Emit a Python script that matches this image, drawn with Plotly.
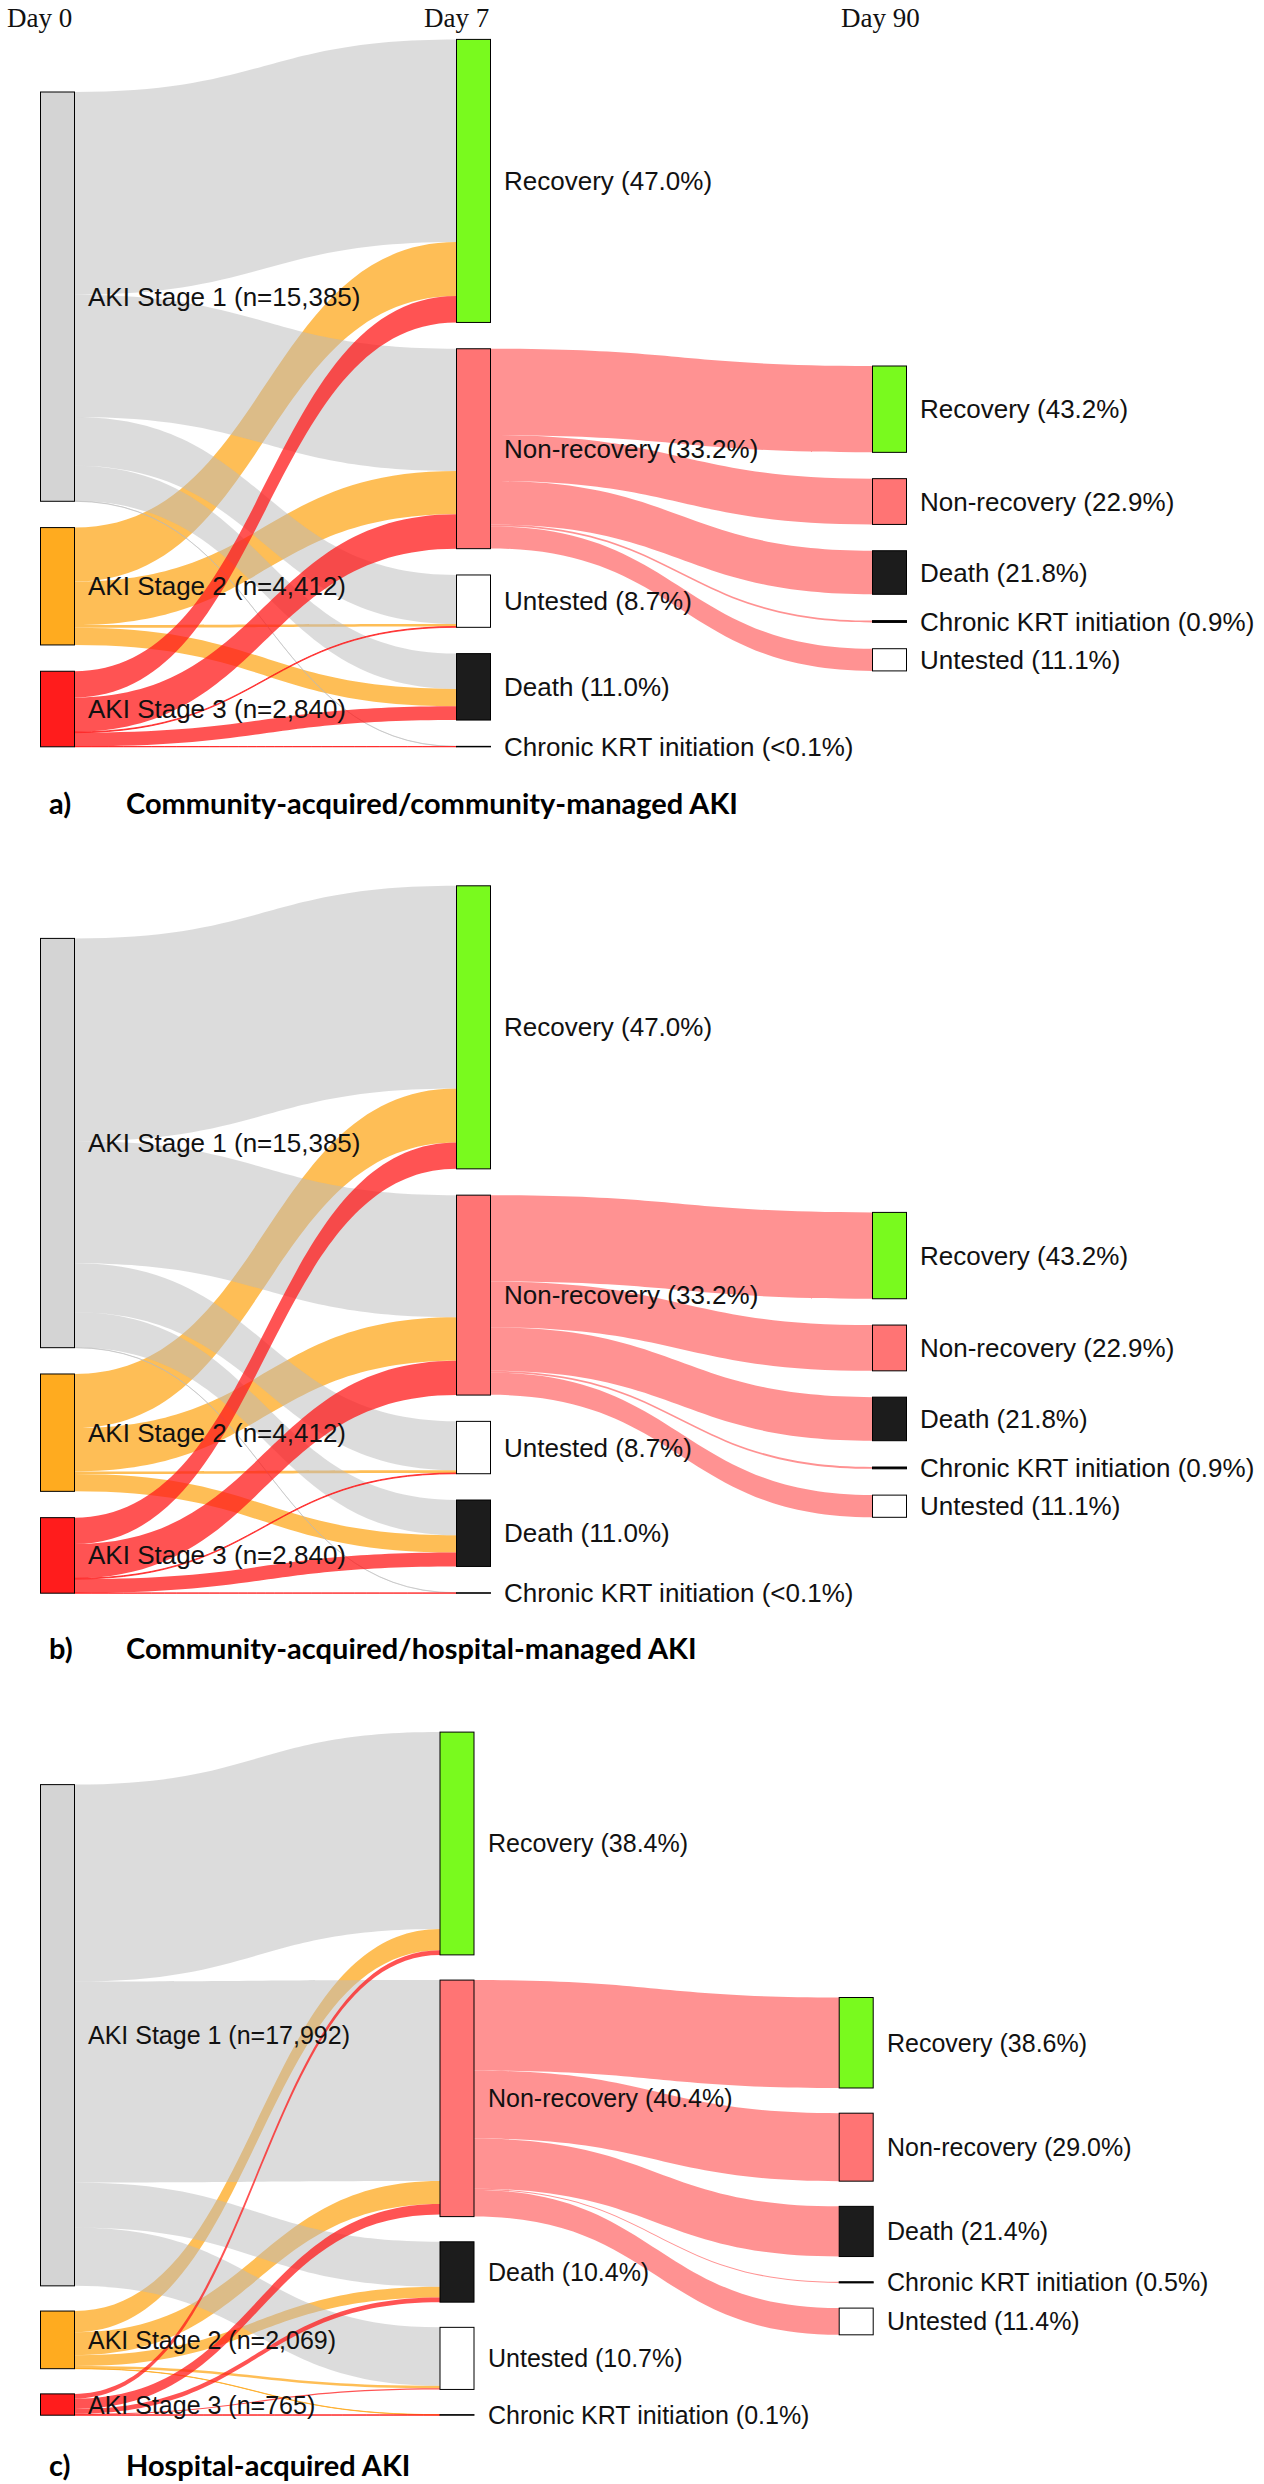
import plotly.graph_objects as go

# ---------------- DATA ----------------
day_headers = ["Day 0", "Day 7", "Day 90"]
panel_letters = ["a)", "b)", "c)"]
panel_titles = ["Community-acquired/community-managed AKI",
                "Community-acquired/hospital-managed AKI",
                "Hospital-acquired AKI"]

# Panels a and b
day0_labels_a = ["AKI Stage 1 (n=15,385)", "AKI Stage 2 (n=4,412)", "AKI Stage 3 (n=2,840)"]
day7_labels_a = ["Recovery (47.0%)", "Non-recovery (33.2%)", "Untested (8.7%)",
                 "Death (11.0%)", "Chronic KRT initiation (<0.1%)"]
day90_labels_a = ["Recovery (43.2%)", "Non-recovery (22.9%)", "Death (21.8%)",
                  "Chronic KRT initiation (0.9%)", "Untested (11.1%)"]
stage1_to_day7_a = [7620, 4593, 1839, 1327, 6]
stage2_to_day7_a = [2030, 1632, 100, 650, 0]
stage3_to_day7_a = [990, 1290, 29, 520, 11]
nonrec_to_day90_a = [3246, 1721, 1638, 68, 834]

day0_labels_b = list(day0_labels_a)
day7_labels_b = list(day7_labels_a)
day90_labels_b = list(day90_labels_a)
stage1_to_day7_b = list(stage1_to_day7_a)
stage2_to_day7_b = list(stage2_to_day7_a)
stage3_to_day7_b = list(stage3_to_day7_a)
nonrec_to_day90_b = list(nonrec_to_day90_a)

# Panel c
day0_labels_c = ["AKI Stage 1 (n=17,992)", "AKI Stage 2 (n=2,069)", "AKI Stage 3 (n=765)"]
day7_labels_c = ["Recovery (38.4%)", "Non-recovery (40.4%)", "Death (10.4%)",
                 "Untested (10.7%)", "Chronic KRT initiation (0.1%)"]
day90_labels_c = ["Recovery (38.6%)", "Non-recovery (29.0%)", "Death (21.4%)",
                  "Chronic KRT initiation (0.5%)", "Untested (11.4%)"]
stage1_to_day7_c = [7069, 7214, 1611, 2098, 0]
stage2_to_day7_c = [760, 825, 385, 91, 8]
stage3_to_day7_c = [168, 375, 170, 40, 12]
nonrec_to_day90_c = [3248, 2440, 1801, 42, 959]

# ---------------- STYLE ----------------
W, HGT = 1264, 2484
stage_fill = ["#d4d4d4", "#ffab1f", "#ff1c1c"]
stage_line = ["#8e8e8e", "#a07c38", "#b03a3a"]
stage_link = ["rgba(186,186,186,0.5)", "rgba(253,168,30,0.75)", "rgba(255,26,26,0.75)"]
nonrec_link = "rgba(255,110,110,0.75)"
outcome_fill = {"Recovery": "#79fa1e", "Non-recovery": "#ff7474", "Untested": "#ffffff",
                "Death": "#1c1c1c", "Chronic KRT initiation": "#000000"}
outcome_line = {"Recovery": "#4f9a2c", "Non-recovery": "#945050", "Untested": "#9a9a9a",
                "Death": "#1c1c1c", "Chronic KRT initiation": "#000000"}
THICK = 34
LABEL_FONT = "Liberation Sans, Arial, sans-serif"

fig = go.Figure()
annotations = []


def px_x(x):
    return x / W


def px_y(y):
    return 1 - y / HGT


def add_panel(stage_flows, nonrec_flows, lab0, lab7, lab90, top, bottom, pad, xc, top90, fs):
    n0, n7, n90 = len(lab0), len(lab7), len(lab90)
    names7 = [l.split(" (")[0] for l in lab7]
    names90 = [l.split(" (")[0] for l in lab90]
    nr = names7.index("Non-recovery")

    src, tgt, val, lcol = [], [], [], []
    for s in (1, 0, 2):  # drawing order of link groups
        for j, v in enumerate(stage_flows[s]):
            if v > 0:
                src.append(s)
                tgt.append(n0 + j)
                val.append(v)
                lcol.append(stage_link[s])
    for j, v in enumerate(nonrec_flows):
        if v > 0:
            src.append(n0 + nr)
            tgt.append(n0 + n7 + j)
            val.append(v)
            lcol.append(nonrec_link)

    v0 = [sum(f) for f in stage_flows]
    v7 = [sum(f[j] for f in stage_flows) for j in range(n7)]
    v7[nr] = max(v7[nr], sum(nonrec_flows))
    v90 = list(nonrec_flows)

    hd = bottom - top
    ky = (hd - (n7 - 1) * pad) / sum(v7)

    def centers(vals, col_top):
        out, y = [], col_top
        for v in vals:
            h = v * ky
            out.append(y + h / 2)
            y += h + pad
        return out

    top0 = bottom - (sum(v0) * ky + (n0 - 1) * pad)
    c0 = centers(v0, top0)
    c7 = centers(v7, top)
    c90 = centers(v90, top90)

    cy = c0 + c7 + c90
    cx = [xc[0]] * n0 + [xc[1]] * n7 + [xc[2]] * n90
    fills = stage_fill + [outcome_fill[n] for n in names7] + [outcome_fill[n] for n in names90]
    lines = stage_line + [outcome_line[n] for n in names7] + [outcome_line[n] for n in names90]
    lw = [2 if n == "Chronic KRT initiation" else 1 for n in (["x"] * n0 + names7 + names90)]

    fig.add_trace(go.Sankey(
        arrangement="fixed",
        domain=dict(x=[0, 1], y=[px_y(bottom), px_y(top)]),
        hoverinfo="none",
        node=dict(
            label=[""] * len(cx),
            x=[c / W for c in cx],
            y=[(c - top) / hd for c in cy],
            pad=pad,
            thickness=THICK,
            align="left",
            color=fills,
            line=dict(color=lines, width=lw),
            hoverinfo="none",
        ),
        link=dict(source=src, target=tgt, value=val, color=lcol, hoverinfo="none"),
    ))

    labels = lab0 + lab7 + lab90
    for lab, x, y in zip(labels, cx, cy):
        annotations.append(dict(
            text=lab, x=px_x(x + THICK / 2 + 11.5), y=px_y(y),
            xref="paper", yref="paper", xanchor="left", yanchor="middle",
            showarrow=False, font=dict(family=LABEL_FONT, size=fs, color="#111111"),
        ))


# panel a
add_panel([stage1_to_day7_a, stage2_to_day7_a, stage3_to_day7_a], nonrec_to_day90_a,
          day0_labels_a, day7_labels_a, day90_labels_a,
          top=39.4, bottom=746.8, pad=26.3, xc=[57.5, 473.5, 889.5], top90=366, fs=26)
# panel b
OFF = 846.4
add_panel([stage1_to_day7_b, stage2_to_day7_b, stage3_to_day7_b], nonrec_to_day90_b,
          day0_labels_b, day7_labels_b, day90_labels_b,
          top=39.4 + OFF, bottom=746.8 + OFF, pad=26.3, xc=[57.5, 473.5, 889.5],
          top90=366 + OFF, fs=26)
# panel c
add_panel([stage1_to_day7_c, stage2_to_day7_c, stage3_to_day7_c], nonrec_to_day90_c,
          day0_labels_c, day7_labels_c, day90_labels_c,
          top=1732.1, bottom=2415.2, pad=25.2, xc=[57.5, 457, 856.2], top90=1997.5, fs=25)

# Day headers
for txt, x in zip(day_headers, [5, 422, 839]):
    annotations.append(dict(
        text=txt, x=px_x(x), y=px_y(18), xref="paper", yref="paper",
        xanchor="left", yanchor="middle", showarrow=False,
        font=dict(family="Liberation Serif, Times New Roman, serif", size=27, color="#111111"),
    ))

# Panel titles
for letter, title, y in zip(panel_letters, panel_titles, [802, 1648, 2464]):
    annotations.append(dict(
        text="<b>" + letter + "</b>", x=px_x(47), y=px_y(y), xref="paper", yref="paper",
        xanchor="left", yanchor="middle", showarrow=False,
        font=dict(family="Lato, sans-serif", size=29, color="#000000"),
    ))
    annotations.append(dict(
        text="<b>" + title + "</b>", x=px_x(124), y=px_y(y), xref="paper", yref="paper",
        xanchor="left", yanchor="middle", showarrow=False,
        font=dict(family="Lato, sans-serif", size=29, color="#000000"),
    ))

fig.update_layout(
    width=W, height=HGT,
    margin=dict(l=0, r=0, t=0, b=0),
    paper_bgcolor="white", plot_bgcolor="white",
    annotations=annotations,
    showlegend=False,
)

fig.write_html("out.html",
               config={"displayModeBar": False},
               post_script="document.body.style.margin='0';document.body.style.padding='0';")
